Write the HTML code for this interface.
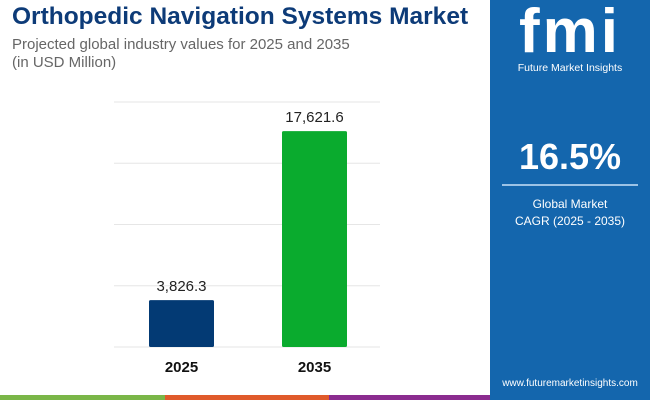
<!DOCTYPE html>
<html><head><meta charset="utf-8"><style>
body{margin:0;width:650px;height:400px;overflow:hidden;background:#fff;font-family:"Liberation Sans",sans-serif;position:relative}
.abs{position:absolute}
</style></head><body>
<div class="abs" style="left:12px;top:3px;font-size:24.5px;font-weight:bold;color:#0d3b78">Orthopedic Navigation Systems Market</div>
<div class="abs" style="left:12px;top:36px;font-size:15px;color:#666;line-height:18px">Projected global industry values for 2025 and 2035<br>(in USD Million)</div>
<svg class="abs" style="left:0;top:0" width="490" height="400" id="chart"></svg>
<div class="abs" style="left:0;top:395px;width:650px;height:5px;background:linear-gradient(90deg,#7ab648 0 165px,#e05a2b 165px 329px,#8b2c8f 329px 490px,#1466ad 490px)"></div>
<div class="abs" style="left:490px;top:0;width:160px;height:395px;background:#1466ad;color:#fff;text-align:center">
  <div style="margin-top:4px;font-size:62px;font-weight:bold;letter-spacing:3px;line-height:56px">fmi</div>
  <div style="font-size:10.5px;margin-top:2px">Future Market Insights</div>
  <div style="font-size:36px;font-weight:bold;margin-top:62px">16.5%</div>
  <div style="margin:6px 12px 0;height:2px;background:#9cc3e6"></div>
  <div style="font-size:12px;margin-top:10px;line-height:17px">Global Market<br>CAGR (2025 - 2035)</div>
  <div style="position:absolute;bottom:6px;width:100%;font-size:10px">www.futuremarketinsights.com</div>
</div>
<script>
const categories=["2025","2035"];
const values=[3826.3,17621.6];
const valueLabels=["3,826.3","17,621.6"];
const ticks=[0,5000,10000,15000,20000];
const colors=["#033a74","#0aab2e"];
const svg=document.getElementById('chart');
const NS="http://www.w3.org/2000/svg";
const y0=347,yMax=20000,plotH=245;
const y=v=>y0-v/yMax*plotH;
const bandX=i=>115+i*133,bandW=133,barW=65;
ticks.forEach(t=>{const l=document.createElementNS(NS,'line');
l.setAttribute('x1',114);l.setAttribute('x2',380);l.setAttribute('y1',y(t));l.setAttribute('y2',y(t));
l.setAttribute('stroke','#e6e6e6');l.setAttribute('stroke-width',1);


svg.appendChild(l);});
values.forEach((v,i)=>{const cx=bandX(i)+bandW/2;
const r=document.createElementNS(NS,'rect');
r.setAttribute('x',cx-barW/2);r.setAttribute('y',y(v));r.setAttribute('width',barW);r.setAttribute('height',y0-y(v));r.setAttribute('fill',colors[i]);r.setAttribute('rx',1.5);


svg.appendChild(r);
const t=document.createElementNS(NS,'text');
t.setAttribute('x',cx);t.setAttribute('y',y(v)-9);t.setAttribute('text-anchor','middle');t.setAttribute('font-size','15');t.setAttribute('fill','#222');t.textContent=valueLabels[i];


svg.appendChild(t);
const c=document.createElementNS(NS,'text');
c.setAttribute('x',cx);c.setAttribute('y',y0+25);c.setAttribute('text-anchor','middle');c.setAttribute('font-size','15');c.setAttribute('font-weight','bold');c.setAttribute('fill','#111');c.textContent=categories[i];


svg.appendChild(c);});
</script>
</body></html>
